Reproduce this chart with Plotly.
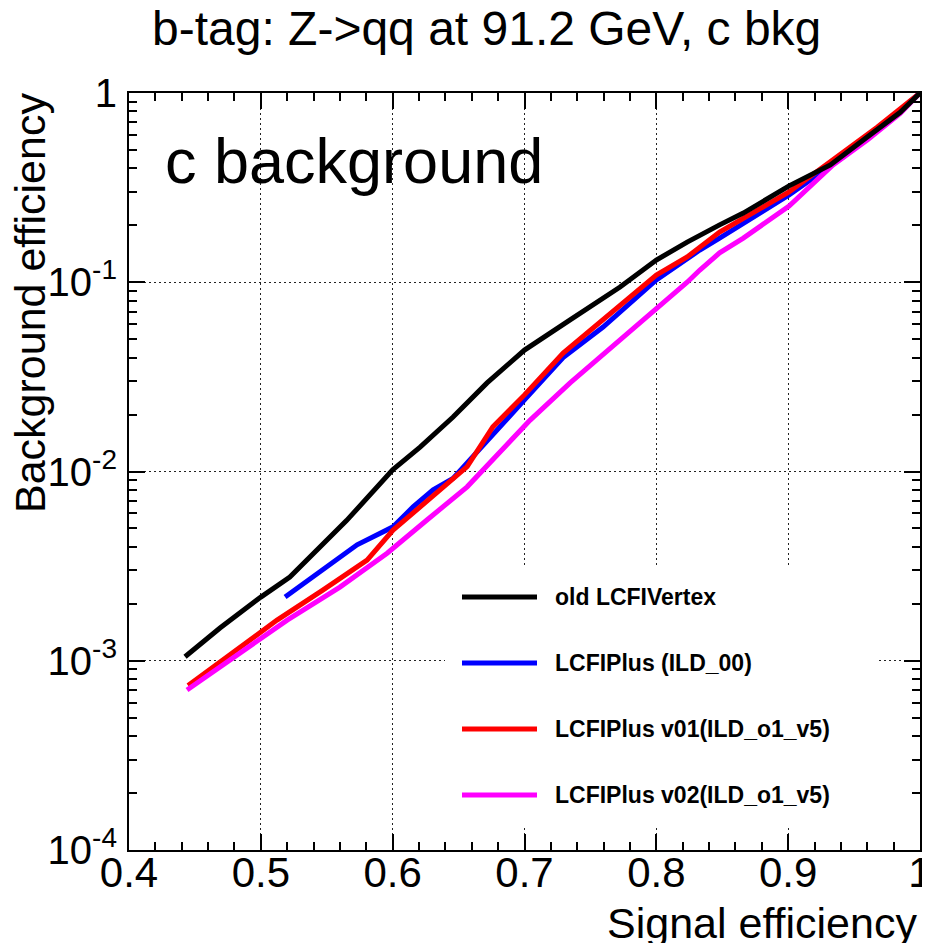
import plotly.graph_objects as go

# ---------------- data ----------------
old_x = [0.4425, 0.469, 0.50, 0.522, 0.565, 0.60, 0.6208, 0.6458, 0.6716, 0.70, 0.7346,
         0.7725, 0.80, 0.8234, 0.848, 0.866, 0.9007, 0.932, 0.96, 0.985, 1.0]
old_y = [1.05e-3, 1.49e-3, 2.17e-3, 2.77e-3, 5.5e-3, 1.02e-2, 0.01346, 0.0194, 0.0294, 0.0438, 0.0632,
         0.0944, 0.131, 0.163, 0.201, 0.232, 0.323, 0.417, 0.586, 0.79, 1.0]

ild00_x = [0.5184, 0.547, 0.573, 0.6003, 0.6155, 0.6307, 0.6458, 0.6565, 0.6868, 0.70, 0.7293,
           0.7596, 0.80, 0.833, 0.848, 0.9007, 0.9417, 0.9675, 1.0]
ild00_y = [2.17e-3, 3.0e-3, 4.1e-3, 5.1e-3, 6.5e-3, 8.0e-3, 9.2e-3, 0.0111, 0.0187, 0.0239, 0.040,
           0.058, 0.1028, 0.148, 0.171, 0.289, 0.459, 0.637, 1.0]

v01_x = [0.4448, 0.5123, 0.547, 0.5806, 0.6003, 0.6208, 0.6382, 0.6565, 0.676, 0.70, 0.7293,
         0.7596, 0.80, 0.8234, 0.848, 0.9007, 0.9417, 0.9675, 1.0]
v01_y = [7.4e-4, 1.64e-3, 2.36e-3, 3.4e-3, 4.9e-3, 6.5e-3, 8.3e-3, 0.0106, 0.0172, 0.0254, 0.0423,
         0.0632, 0.109, 0.136, 0.184, 0.30, 0.482, 0.66, 1.0]

v02_x = [0.444, 0.52, 0.56, 0.5958, 0.626, 0.6565, 0.6868, 0.7043, 0.7346, 0.7725, 0.80,
         0.8234, 0.833, 0.848, 0.866, 0.9007, 0.934, 0.96, 0.985, 1.0]
v02_y = [7.0e-4, 1.64e-3, 2.45e-3, 3.7e-3, 5.54e-3, 8.3e-3, 0.0139, 0.0187, 0.0294, 0.0495, 0.0734,
         0.100, 0.116, 0.143, 0.171, 0.253, 0.417, 0.565, 0.78, 1.0]

series_names = ["old LCFIVertex", "LCFIPlus (ILD_00)", "LCFIPlus v01(ILD_o1_v5)", "LCFIPlus v02(ILD_o1_v5)"]
series_colors = ["#000000", "#0000ff", "#ff0000", "#ff00ff"]

x_tickvals = [0.4, 0.5, 0.6, 0.7, 0.8, 0.9, 1.0]
x_ticktext = ["0.4", "0.5", "0.6", "0.7", "0.8", "0.9", "1"]
y_tickvals = [1e-4, 1e-3, 1e-2, 1e-1, 1]
y_ticktext = ["10<sup>-4</sup>", "10<sup>-3</sup>", "10<sup>-2</sup>", "10<sup>-1</sup>", "1"]

title_text = "b-tag: Z->qq at 91.2 GeV, c bkg"
x_title = "Signal efficiency"
y_title = "Background efficiency"
label_text = "c background"

# ---------------- layout helpers (page pixel -> paper) ----------------
OFF = 8  # default body margin of the html page
W, H = 930 - OFF, 943 - OFF
L, R, T, B = 129, 920, 93, 850   # plot frame in page pixels
def px(p):
    return (p - L) / (R - L)
def py(p):
    return (B - p) / (B - T)

FONT = "Liberation Sans, Arial, sans-serif"

fig = go.Figure()
data = [(old_x, old_y), (ild00_x, ild00_y), (v01_x, v01_y), (v02_x, v02_y)]
order = [1, 2, 3, 0]
for i in order:
    xs, ys = data[i]
    fig.add_trace(go.Scatter(x=xs, y=ys, mode="lines", name=series_names[i],
                             line=dict(color=series_colors[i], width=5),
                             showlegend=False))

# minor tick positions
x_minor = [round(0.4 + 0.02 * k, 2) for k in range(31)]
y_minor = []
for e in [-4, -3, -2, -1]:
    for m in range(2, 10):
        y_minor.append(m * 10 ** e)

fig.update_layout(
    width=W, height=H,
    margin=dict(l=L - OFF, r=W - (R - OFF), t=T - OFF, b=H - (B - OFF), autoexpand=False),
    plot_bgcolor="white", paper_bgcolor="white",
    font=dict(family=FONT, color="black"),
    showlegend=False,
    xaxis=dict(
        range=[0.4, 1.0], tickmode="array", tickvals=x_tickvals, ticktext=x_ticktext,
        ticks="inside", ticklen=16, tickwidth=1.5, tickcolor="black", automargin=False,
        showline=True, linewidth=2, linecolor="black", mirror="ticks",
        showgrid=True, gridcolor="#222222", gridwidth=1, griddash="2px,3px",
        zeroline=False, tickfont=dict(size=42, family=FONT), ticklabelstandoff=-15,
        ticklabeloverflow="allow",
        minor=dict(tickmode="array", tickvals=x_minor, ticks="inside", ticklen=8,
                   tickwidth=1.5, tickcolor="black", showgrid=False),
    ),
    yaxis=dict(
        type="log", range=[-4, 0], tickmode="array", tickvals=y_tickvals, ticktext=y_ticktext,
        ticks="inside", ticklen=16, tickwidth=1.5, tickcolor="black", automargin=False,
        showline=True, linewidth=2, linecolor="black", mirror="ticks",
        showgrid=True, gridcolor="#222222", gridwidth=1, griddash="2px,3px",
        zeroline=False, tickfont=dict(size=40, family=FONT), ticklabelstandoff=2,
        ticklabeloverflow="allow",
        minor=dict(tickmode="array", tickvals=y_minor, ticks="inside", ticklen=8,
                   tickwidth=1.5, tickcolor="black", showgrid=False),
    ),
)

annotations = [
    dict(text=title_text, x=px(486), y=py(28), xref="paper", yref="paper",
         xanchor="center", yanchor="middle", showarrow=False, font=dict(size=48, family=FONT)),
    dict(text=label_text, x=px(163), y=py(161), xref="paper", yref="paper",
         xanchor="left", yanchor="middle", showarrow=False, font=dict(size=63, family=FONT)),
    dict(text=x_title, x=px(919), y=py(923), xref="paper", yref="paper",
         xanchor="right", yanchor="middle", showarrow=False, font=dict(size=43, family=FONT)),
    dict(text=y_title, x=px(30), y=py(303), xref="paper", yref="paper", textangle=-90,
         xanchor="center", yanchor="middle", showarrow=False, font=dict(size=43, family=FONT)),
]

# manual legend (white box hiding the grid, like the reference)
leg_y = [597, 663, 729, 795]
shapes = [dict(type="rect", xref="paper", yref="paper", layer="above",
               x0=px(445), x1=px(877), y0=py(826), y1=py(566),
               fillcolor="white", line=dict(width=0))]
for k in range(4):
    shapes.append(dict(type="line", xref="paper", yref="paper", layer="above",
                       x0=px(462), x1=px(537), y0=py(leg_y[k]), y1=py(leg_y[k]),
                       line=dict(color=series_colors[k], width=5)))
    annotations.append(dict(text="<b>" + series_names[k] + "</b>", x=px(553), y=py(leg_y[k]),
                            xref="paper", yref="paper", xanchor="left", yanchor="middle",
                            showarrow=False, font=dict(size=23, family=FONT)))

fig.update_layout(annotations=annotations, shapes=shapes)
fig.write_html("out.html")
